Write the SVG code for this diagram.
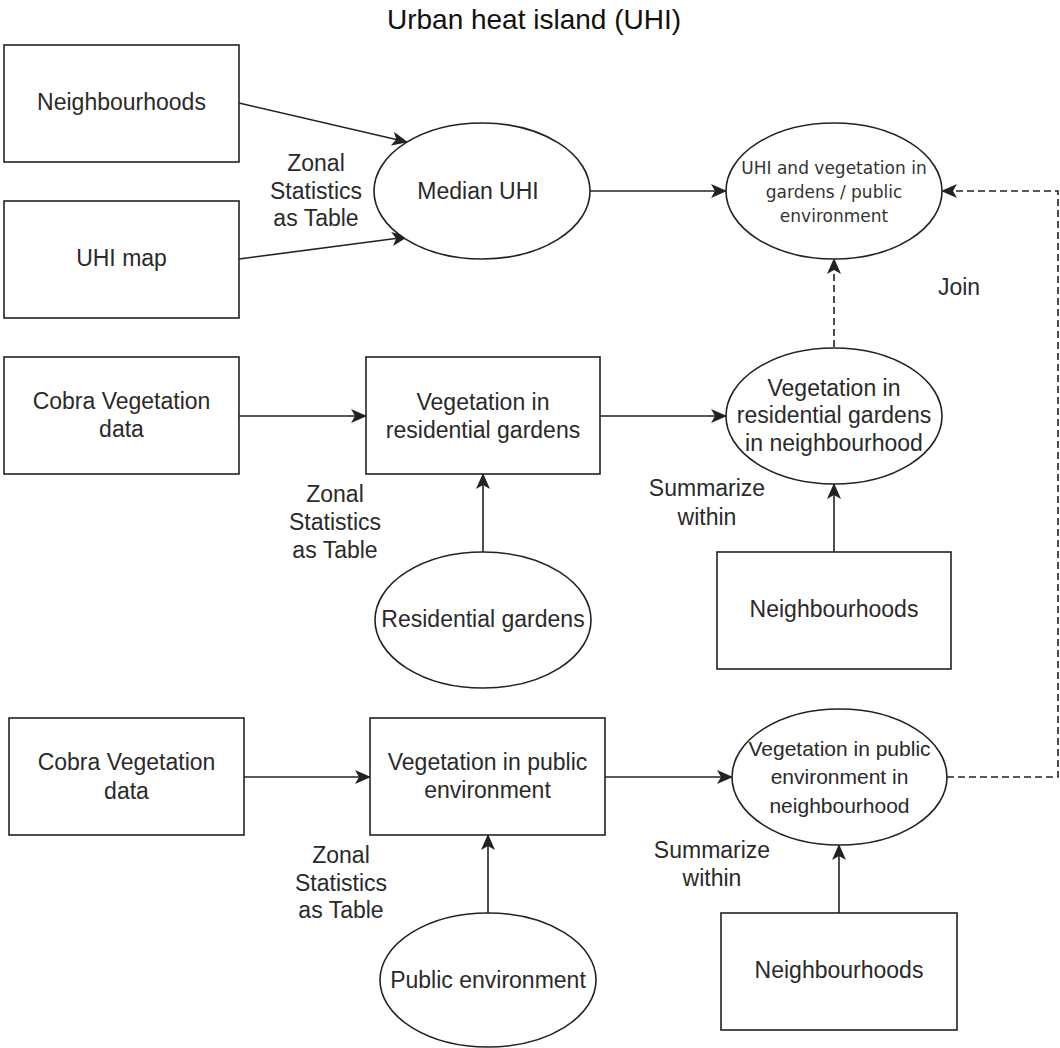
<svg xmlns="http://www.w3.org/2000/svg" width="1060" height="1048" viewBox="0 0 1060 1048">
  <style>
    .box { fill: #ffffff; stroke: #222222; stroke-width: 1.6; }
    .lbl { font-family: "Liberation Sans", Arial, sans-serif; font-size: 23px; fill: #2a2a2a; text-anchor: middle; }
    .sm { font-size: 21px; }
    .tiny { font-family: "DejaVu Sans", Verdana, sans-serif; font-size: 17px; fill: #333333; text-anchor: middle; }
    .title { font-family: "Liberation Sans", Arial, sans-serif; font-size: 28px; fill: #111111; text-anchor: middle; }
    .edge { fill: none; stroke: #222222; stroke-width: 1.6; marker-end: url(#arrow); }
    .dash { stroke-dasharray: 7 4; }
  </style>
  <defs>
    <marker id="arrow" markerUnits="userSpaceOnUse" viewBox="0 0 16 14" markerWidth="16" markerHeight="14" refX="15" refY="7" orient="auto">
      <path d="M0,0 L16,7 L0,14 L4,7 Z" fill="#222222"/>
    </marker>
  </defs>

  <rect width="1060" height="1048" fill="#ffffff"/>

  <text class="title" x="534" y="29">Urban heat island (UHI)</text>

  <!-- connectors -->
  <g id="connectors">
    <path class="edge" d="M239,103 L407,142"/>
    <path class="edge" d="M239,259 L407,237"/>
    <path class="edge" d="M590,191 L726,191"/>
    <path class="edge" d="M239,416 L366,416"/>
    <path class="edge" d="M600,416 L726,416"/>
    <path class="edge" d="M483,552 L483,474"/>
    <path class="edge" d="M834,552 L834,484"/>
    <path class="edge dash" d="M834,347 L834,259"/>
    <path class="edge" d="M244,777 L370,777"/>
    <path class="edge" d="M605,777 L732,777"/>
    <path class="edge" d="M488,913 L488,835"/>
    <path class="edge" d="M839,913 L839,845"/>
    <path class="edge dash" d="M947,777 L1058,777 L1058,191 L942,191"/>
  </g>

  <!-- connector labels -->
  <g id="edge-labels">
    <text class="lbl"><tspan x="316" y="171">Zonal</tspan><tspan x="316" y="199">Statistics</tspan><tspan x="316" y="226">as Table</tspan></text>
    <text class="lbl" x="959" y="295">Join</text>
    <text class="lbl"><tspan x="335" y="502">Zonal</tspan><tspan x="335" y="530">Statistics</tspan><tspan x="335" y="558">as Table</tspan></text>
    <text class="lbl"><tspan x="707" y="496">Summarize</tspan><tspan x="707" y="525">within</tspan></text>
    <text class="lbl"><tspan x="341" y="863">Zonal</tspan><tspan x="341" y="891">Statistics</tspan><tspan x="341" y="918">as Table</tspan></text>
    <text class="lbl"><tspan x="712" y="858">Summarize</tspan><tspan x="712" y="886">within</tspan></text>
  </g>

  <!-- row 1 -->
  <g id="neighbourhoods-1">
    <rect class="box" x="4" y="45" width="235" height="117"/>
    <text class="lbl" x="121.5" y="110">Neighbourhoods</text>
  </g>
  <g id="uhi-map">
    <rect class="box" x="4" y="201" width="235" height="117"/>
    <text class="lbl" x="121.5" y="266">UHI map</text>
  </g>
  <g id="median-uhi">
    <ellipse class="box" cx="482" cy="191" rx="108" ry="68"/>
    <text class="lbl" x="478" y="199">Median UHI</text>
  </g>
  <g id="uhi-and-vegetation">
    <ellipse class="box" cx="834" cy="191" rx="108" ry="68"/>
    <text class="tiny"><tspan x="834" y="174">UHI and vegetation in</tspan><tspan x="834" y="198">gardens / public</tspan><tspan x="834" y="222">environment</tspan></text>
  </g>

  <!-- row 2 -->
  <g id="cobra-vegetation-1">
    <rect class="box" x="4" y="357" width="235" height="117"/>
    <text class="lbl"><tspan x="121.5" y="409">Cobra Vegetation</tspan><tspan x="121.5" y="437">data</tspan></text>
  </g>
  <g id="vegetation-residential">
    <rect class="box" x="366" y="357" width="234" height="117"/>
    <text class="lbl"><tspan x="483" y="410">Vegetation in</tspan><tspan x="483" y="438">residential gardens</tspan></text>
  </g>
  <g id="residential-gardens">
    <ellipse class="box" cx="483" cy="620" rx="108" ry="68"/>
    <text class="lbl" x="483" y="627">Residential gardens</text>
  </g>
  <g id="vegetation-residential-neighbourhood">
    <ellipse class="box" cx="834" cy="416" rx="108" ry="68"/>
    <text class="lbl"><tspan x="834" y="396">Vegetation in</tspan><tspan x="834" y="423">residential gardens</tspan><tspan x="834" y="451">in neighbourhood</tspan></text>
  </g>
  <g id="neighbourhoods-2">
    <rect class="box" x="717" y="552" width="234" height="117"/>
    <text class="lbl" x="834" y="617">Neighbourhoods</text>
  </g>

  <!-- row 3 -->
  <g id="cobra-vegetation-2">
    <rect class="box" x="9" y="718" width="235" height="117"/>
    <text class="lbl"><tspan x="126.5" y="770">Cobra Vegetation</tspan><tspan x="126.5" y="799">data</tspan></text>
  </g>
  <g id="vegetation-public">
    <rect class="box" x="370" y="718" width="235" height="117"/>
    <text class="lbl"><tspan x="487.5" y="770">Vegetation in public</tspan><tspan x="487.5" y="798">environment</tspan></text>
  </g>
  <g id="public-environment">
    <ellipse class="box" cx="488" cy="980" rx="108" ry="67"/>
    <text class="lbl" x="488" y="988">Public environment</text>
  </g>
  <g id="vegetation-public-neighbourhood">
    <ellipse class="box" cx="839.5" cy="777" rx="107.5" ry="68"/>
    <text class="lbl sm"><tspan x="839.5" y="756">Vegetation in public</tspan><tspan x="839.5" y="784">environment in</tspan><tspan x="839.5" y="813">neighbourhood</tspan></text>
  </g>
  <g id="neighbourhoods-3">
    <rect class="box" x="721" y="913" width="236" height="117"/>
    <text class="lbl" x="839" y="978">Neighbourhoods</text>
  </g>
</svg>
